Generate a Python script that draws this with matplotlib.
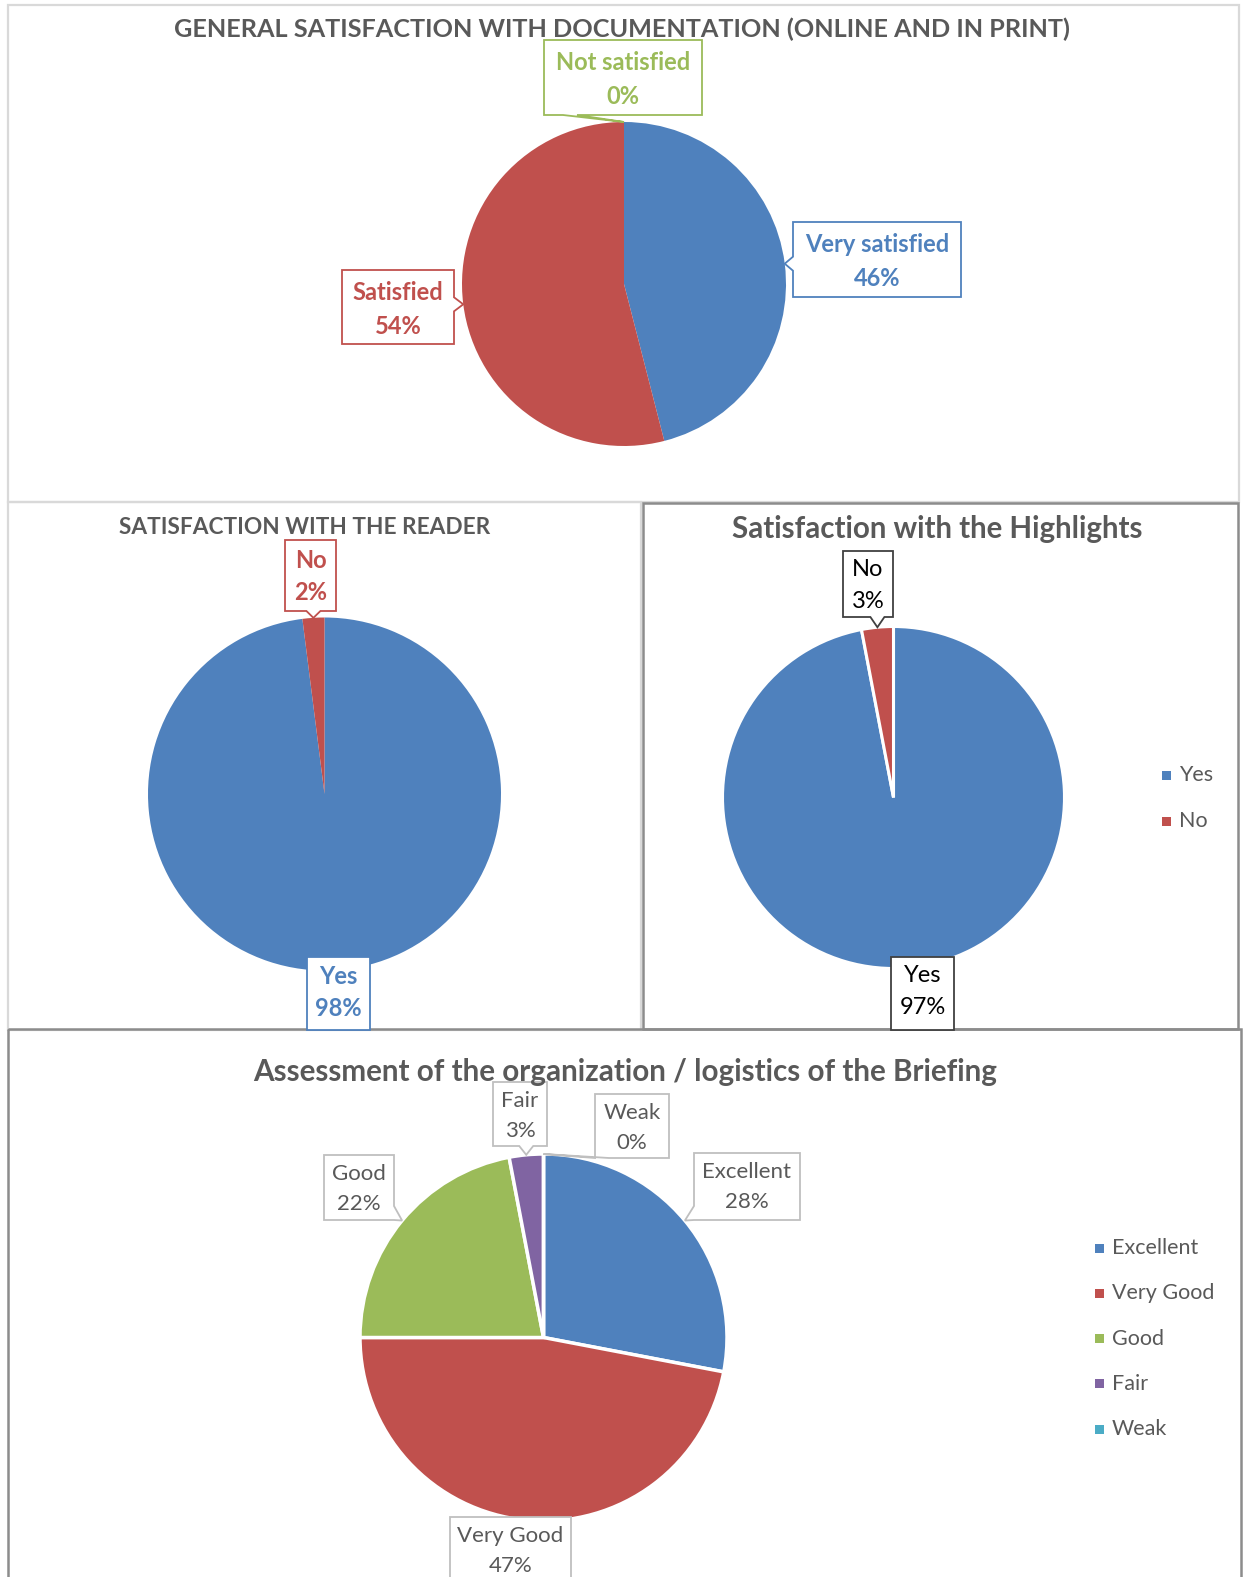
#!/usr/bin/env python3
"""
Four survey pie charts (documentation, reader, highlights, briefing)
"""

import numpy as np
import matplotlib
matplotlib.use('Agg')
import matplotlib.pyplot as plt
from matplotlib.patches import Polygon, Rectangle

plt.rcParams['font.family'] = ['Lato', 'DejaVu Sans']

# --- data -------------------------------------------------------------
doc_labels = ['Very satisfied', 'Satisfied', 'Not satisfied']
doc_values = [46, 54, 0]

reader_labels = ['Yes', 'No']
reader_values = [98, 2]

highlight_labels = ['Yes', 'No']
highlight_values = [97, 3]

brief_labels = ['Excellent', 'Very Good', 'Good', 'Fair', 'Weak']
brief_values = [28, 47, 22, 3, 0]

# --- style ------------------------------------------------------------
BLUE, RED, GREEN, PURPLE, CYAN = '#4F81BD', '#C0504D', '#9BBB59', '#8064A2', '#4BACC6'
TITLE_GREY = '#595959'
LIGHT_BORDER = '#d9d9d9'
DARK_BORDER = '#8c8c8c'

W, H = 1245, 1577
fig = plt.figure(figsize=(W / 100, H / 100), dpi=100)
fig.patch.set_facecolor('white')

# overlay in pixel coords (y down) for frames, titles and callouts
ov = fig.add_axes([0, 0, 1, 1], zorder=10)
ov.set_xlim(0, W)
ov.set_ylim(H, 0)
ov.set_axis_off()
ov.patch.set_alpha(0)
renderer = fig.canvas.get_renderer()


def pie_axes(cx, cy, r):
    ax = fig.add_axes([(cx - r) / W, 1 - (cy + r) / H, 2 * r / W, 2 * r / H], zorder=1)
    return ax


def draw_pie(cx, cy, r, values, colors, edge=0):
    ax = pie_axes(cx, cy, r)
    wp = dict(edgecolor='white', linewidth=edge) if edge else dict(linewidth=0)
    ax.pie(values, colors=colors, startangle=90, counterclock=False,
           radius=1, wedgeprops=wp)
    ax.set_xlim(-1, 1)
    ax.set_ylim(-1, 1)
    return ax


def slice_tip(values, i, cx, cy, r):
    tot = float(sum(values))
    before = sum(values[:i])
    ang = np.deg2rad(90 - 360 * (before + values[i] / 2) / tot)
    return cx + r * np.cos(ang), cy - r * np.sin(ang)


def callout(box, tip, side, ec, lines, line_y, color, size, weight='normal',
            lw=1.3, w=14, at=None):
    x0, y0, x1, y1 = box
    tx, ty = tip
    inside = (x0 <= tx <= x1) and (y0 <= ty <= y1)
    if inside:
        pts = [(x0, y0), (x1, y0), (x1, y1), (x0, y1)]
    elif side == 'bottom':
        c = tx if at is None else at
        c = min(max(c, x0 + w / 2), x1 - w / 2)
        pts = [(x0, y0), (x1, y0), (x1, y1), (c + w / 2, y1), (tx, ty),
               (c - w / 2, y1), (x0, y1)]
    elif side == 'top':
        c = tx if at is None else at
        c = min(max(c, x0 + w / 2), x1 - w / 2)
        pts = [(x0, y0), (c - w / 2, y0), (tx, ty), (c + w / 2, y0),
               (x1, y0), (x1, y1), (x0, y1)]
    elif side == 'left':
        c = ty if at is None else at
        c = min(max(c, y0 + w / 2), y1 - w / 2)
        pts = [(x0, y0), (x1, y0), (x1, y1), (x0, y1), (x0, c + w / 2),
               (tx, ty), (x0, c - w / 2)]
    else:  # right
        c = ty if at is None else at
        c = min(max(c, y0 + w / 2), y1 - w / 2)
        pts = [(x0, y0), (x1, y0), (x1, c - w / 2), (tx, ty),
               (x1, c + w / 2), (x1, y1), (x0, y1)]
    ov.add_patch(Polygon(pts, closed=True, facecolor='white', edgecolor=ec,
                         linewidth=lw, zorder=5))
    xc = (x0 + x1) / 2
    for s, y in zip(lines, line_y):
        ov.text(xc, y, s, ha='center', va='center', fontsize=size,
                fontweight=weight, color=color, zorder=6)


def fit_title(x, y, s, width):
    t = ov.text(x, y, s, ha='center', va='center', fontsize=20,
                fontweight='bold', color=TITLE_GREY, zorder=6)
    wpx = t.get_window_extent(renderer).width
    t.set_fontsize(20 * width / wpx)
    return t


def frame(x0, y0, x1, y1, color, lw):
    ov.add_patch(Rectangle((x0, y0), x1 - x0, y1 - y0, facecolor='none',
                           edgecolor=color, linewidth=lw, zorder=2))


# --- panel frames -----------------------------------------------------
frame(8, 5, 1239, 502, LIGHT_BORDER, 1.6)
frame(8, 502, 641, 1030, LIGHT_BORDER, 1.6)
frame(643, 503, 1238, 1029, DARK_BORDER, 1.8)
frame(8, 1029, 1241, 1600, DARK_BORDER, 1.8)

# --- 1. general satisfaction with documentation -----------------------
fit_title(622, 29, 'GENERAL SATISFACTION WITH DOCUMENTATION (ONLINE AND IN PRINT)', 898)
cx, cy, r = 624, 284, 162
draw_pie(cx, cy, r, doc_values, [BLUE, RED, GREEN])
doc_boxes = [(793, 222, 961, 297), (342, 270, 454, 344), (544, 40, 702, 115)]
doc_sides = ['left', 'right', 'bottom']
doc_cols = [BLUE, RED, GREEN]
doc_ats = [None, None, 570]
for i, lab in enumerate(doc_labels):
    b = doc_boxes[i]
    callout(b, slice_tip(doc_values, i, cx, cy, r), doc_sides[i], doc_cols[i],
            [lab, f'{doc_values[i]}%'], [b[1] + 23, b[1] + 56], doc_cols[i],
            17, weight='bold', at=doc_ats[i])

# --- 2. satisfaction with the reader ----------------------------------
fit_title(305, 528, 'SATISFACTION WITH THE READER', 371)
cx, cy, r = 324.5, 794, 176.5
draw_pie(cx, cy, r, reader_values, [BLUE, RED])
reader_boxes = [(307, 957, 370, 1030), (285, 540, 336, 611)]
reader_sides = ['top', 'bottom']
reader_cols = [BLUE, RED]
for i, lab in enumerate(reader_labels):
    b = reader_boxes[i]
    callout(b, slice_tip(reader_values, i, cx, cy, r), reader_sides[i], reader_cols[i],
            [lab, f'{reader_values[i]}%'], [b[1] + 20, b[1] + 52], reader_cols[i],
            17, weight='bold')

# --- 3. satisfaction with the highlights ------------------------------
fit_title(937, 529, 'Satisfaction with the Highlights', 412)
cx, cy, r = 893.5, 797.5, 171
draw_pie(cx, cy, r, highlight_values, [BLUE, RED], edge=2.2)
hl_boxes = [(891, 957, 954, 1030), (843, 551, 893, 617)]
hl_sides = ['top', 'bottom']
for i, lab in enumerate(highlight_labels):
    b = hl_boxes[i]
    callout(b, slice_tip(highlight_values, i, cx, cy, r), hl_sides[i], '#404040',
            [lab, f'{highlight_values[i]}%'], [b[1] + 19, b[1] + 51], 'black', 17)

for j, (lab, col) in enumerate(zip(highlight_labels, [BLUE, RED])):
    y = 775 + 46 * j
    ov.add_patch(Rectangle((1162, y - 4.5), 9, 9, facecolor=col, edgecolor='none', zorder=6))
    ov.text(1179, y, lab, ha='left', va='center', fontsize=15.5, color=TITLE_GREY, zorder=6)

# --- 4. assessment of the briefing ------------------------------------
fit_title(625, 1072, 'Assessment of the organization / logistics of the Briefing', 745)
cx, cy, r = 543.5, 1337.5, 183.5
brief_cols = [BLUE, RED, GREEN, PURPLE, CYAN]
draw_pie(cx, cy, r, brief_values, brief_cols, edge=2.5)
brief_boxes = [(694, 1153, 800, 1220), (450, 1517, 571, 1600), (324, 1155, 394, 1220),
               (493, 1082, 547, 1146), (595, 1094, 669, 1158)]
brief_sides = ['left', 'top', 'right', 'bottom', 'bottom']
for i, lab in enumerate(brief_labels):
    b = brief_boxes[i]
    callout(b, slice_tip(brief_values, i, cx, cy, r), brief_sides[i], '#bfbfbf',
            [lab, f'{brief_values[i]}%'], [b[1] + 19, b[1] + 49], TITLE_GREY, 16)

for j, (lab, col) in enumerate(zip(brief_labels, brief_cols)):
    y = 1248 + 45.3 * j
    ov.add_patch(Rectangle((1095, y - 4.5), 9, 9, facecolor=col, edgecolor='none', zorder=6))
    ov.text(1112, y, lab, ha='left', va='center', fontsize=15.5, color=TITLE_GREY, zorder=6)

plt.savefig('out.png', dpi=100, facecolor='white')
print("Saved: out.png")
